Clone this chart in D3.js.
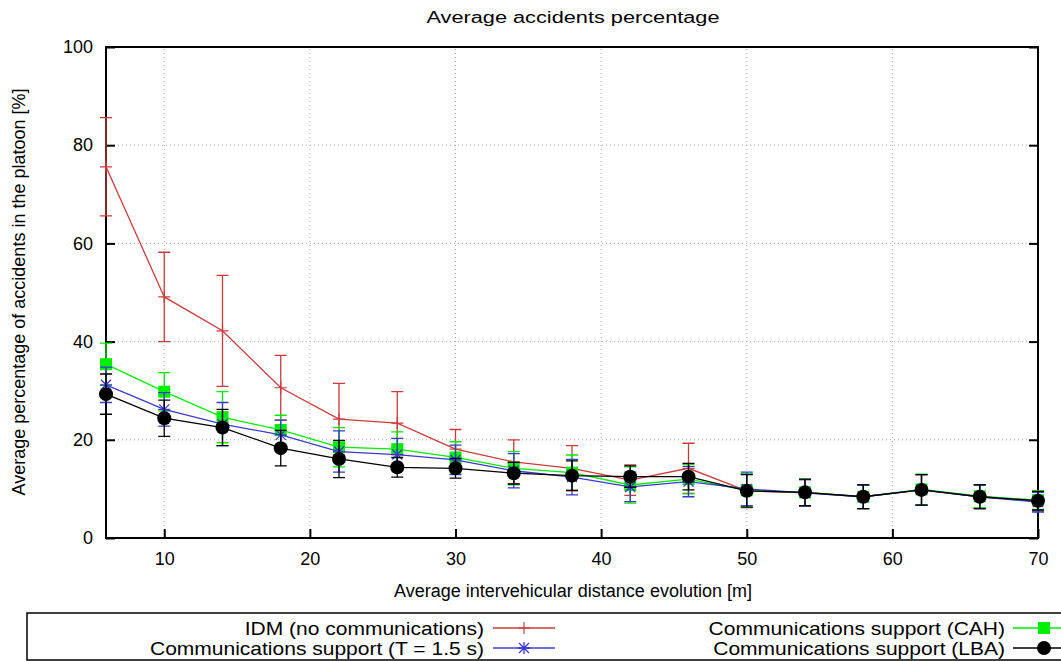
<!DOCTYPE html>
<html><head><meta charset="utf-8">
<script src="https://cdn.jsdelivr.net/npm/d3@7"></script>
<style>body{margin:0;background:#fff}svg{display:block}text{font-family:"Liberation Sans",Arial,sans-serif}</style>
</head><body>
<svg id="c" width="1061" height="661"></svg>
<script>
const distances = [6,10,14,18,22,26,30,34,38,42,46,50,54,58,62,66,70];
const idmValues = [75.6,49.1,42.2,30.6,24.2,23.4,18.1,15.5,14.2,11.8,14.2,9.6,9.2,8.4,9.8,8.4,7.5];
const idmErrors = [10,9.1,11.3,6.6,7.3,6.4,4,4.5,4.6,3.1,5.1,3.4,2.7,2.4,3.1,2.4,2];
const cahValues = [35.4,29.8,24.6,22.0,18.5,18.1,16.4,14.2,13.3,10.8,12.0,9.7,9.3,8.4,9.9,8.5,7.7];
const cahErrors = [4.3,3.9,5.2,3,4,3.5,3.2,3.4,3.6,3.7,3,3.4,2.7,2.4,3.1,2.3,1.9];
const tValues = [31.2,26.2,23.2,21.0,17.6,17.0,15.9,13.7,12.4,10.4,11.5,10.0,9.2,8.4,9.8,8.4,7.3];
const tErrors = [3.6,3.4,4.4,3,4.2,3.3,3,3.5,3.6,3,3.1,3.4,2.7,2.4,3.1,2.4,2];
const lbaValues = [29.3,24.4,22.5,18.3,16.1,14.4,14.2,13.2,12.7,12.5,12.5,9.6,9.3,8.4,9.8,8.4,7.6];
const lbaErrors = [4.1,3.7,3.7,3.6,3.8,2,2,2.2,3,2.2,2.7,3.3,2.7,2.4,3.1,2.4,1.9];
const xTicks = [10,20,30,40,50,60,70];
const yTicks = [0,20,40,60,80,100];
const seriesNames = ["IDM (no communications)","Communications support (CAH)","Communications support (T = 1.5 s)","Communications support (LBA)"];

const series = [
  {name: seriesNames[0], v: idmValues, e: idmErrors, color: "#cc3b3b", marker: "plus"},
  {name: seriesNames[1], v: cahValues, e: cahErrors, color: "#00ee00", marker: "square"},
  {name: seriesNames[2], v: tValues, e: tErrors, color: "#3a3acc", marker: "star"},
  {name: seriesNames[3], v: lbaValues, e: lbaErrors, color: "#000000", marker: "circle"}
];

const svg = d3.select("#c");
const L = 106, R = 1038, T = 47, B = 538;
const x = d3.scaleLinear().domain([6,70]).range([L,R]);
const y = d3.scaleLinear().domain([0,100]).range([B,T]);

// grid
const g = svg.append("g");
g.selectAll(".gx").data(xTicks.filter(d=>d<70)).join("line")
  .attr("x1",d=>x(d)).attr("x2",d=>x(d)).attr("y1",B).attr("y2",T)
  .attr("stroke","#aaa").attr("stroke-width",1).attr("stroke-dasharray","1,3");
g.selectAll(".gy").data(yTicks.filter(d=>d>0&&d<100)).join("line")
  .attr("y1",d=>y(d)).attr("y2",d=>y(d)).attr("x1",L).attr("x2",R)
  .attr("stroke","#aaa").attr("stroke-width",1).attr("stroke-dasharray","1,3");

// axes (inward ticks)
const xAx = svg.append("g").attr("transform",`translate(0,${B})`)
  .call(d3.axisBottom(x).tickValues(xTicks).tickSizeInner(-9).tickSizeOuter(0).tickPadding(14));
const yAx = svg.append("g").attr("transform",`translate(${L},0)`)
  .call(d3.axisLeft(y).tickValues(yTicks).tickSizeInner(-9).tickSizeOuter(0).tickPadding(13));
const yAxR = svg.append("g").attr("transform",`translate(${R},0)`)
  .call(d3.axisRight(y).tickValues(yTicks).tickSizeInner(-9).tickSizeOuter(0).tickFormat(""));
[xAx,yAx,yAxR].forEach(a=>{
  a.select(".domain").remove();
  a.selectAll("line").attr("stroke","#000").attr("stroke-width",2);
  a.selectAll("text").attr("font-size",18).attr("fill","#000").attr("font-family","Liberation Sans, Arial, sans-serif");
});

// frame
svg.append("rect").attr("x",L).attr("y",T).attr("width",R-L).attr("height",B-T)
  .attr("fill","none").attr("stroke","#000").attr("stroke-width",2);

function drawMarker(sel, type, color, cx, cy){
  if(type==="plus"){
    sel.append("path").attr("d",`M${cx-6},${cy}H${cx+6}M${cx},${cy-6}V${cy+6}`).attr("stroke",color).attr("stroke-width",1.2).attr("fill","none");
  } else if(type==="square"){
    sel.append("rect").attr("x",cx-6).attr("y",cy-6).attr("width",12).attr("height",12).attr("fill",color);
  } else if(type==="star"){
    sel.append("path").attr("d",`M${cx-6},${cy}H${cx+6}M${cx},${cy-6}V${cy+6}M${cx-5},${cy-5}L${cx+5},${cy+5}M${cx-5},${cy+5}L${cx+5},${cy-5}`)
      .attr("stroke",color).attr("stroke-width",1.3).attr("fill","none");
  } else {
    sel.append("circle").attr("cx",cx).attr("cy",cy).attr("r",7).attr("fill",color);
  }
}

const line = d3.line().x((d,i)=>x(distances[i])).y(d=>y(d));
series.forEach(s=>{
  const sg = svg.append("g");
  s.v.forEach((v,i)=>{
    const cx = x(distances[i]), y1 = y(v+s.e[i]), y2 = y(v-s.e[i]);
    sg.append("path").attr("d",`M${cx},${y1}V${y2}M${cx-6},${y1}H${cx+6}M${cx-6},${y2}H${cx+6}`)
      .attr("stroke",s.color).attr("stroke-width",1.3).attr("fill","none");
  });
  sg.append("path").datum(s.v).attr("d",line).attr("fill","none").attr("stroke",s.color).attr("stroke-width",1.3);
  s.v.forEach((v,i)=>drawMarker(sg, s.marker, s.color, x(distances[i]), y(v)));
});

// title & labels
svg.append("text").attr("x",573).attr("y",23).attr("text-anchor","middle").attr("font-size",16)
  .attr("textLength",293).attr("lengthAdjust","spacingAndGlyphs").text("Average accidents percentage");
svg.append("text").attr("x",573).attr("y",597).attr("text-anchor","middle").attr("font-size",18)
  .text("Average intervehicular distance evolution [m]");
svg.append("text").attr("transform","translate(25,292) rotate(-90)").attr("text-anchor","middle").attr("font-size",18)
  .text("Average percentage of accidents in the platoon [%]");

// legend
svg.append("rect").attr("x",27).attr("y",613).attr("width",1100).attr("height",47)
  .attr("fill","none").attr("stroke","#000").attr("stroke-width",1.5);
const legPos = [
  {tx:484, lx:493, ty:628},
  {tx:1005, lx:1013, ty:628},
  {tx:484, lx:493, ty:648},
  {tx:1005, lx:1013, ty:648}
];
// condensed legend font: scale so that the T = 1.5 s entry spans 334px
const probe = svg.append("text").attr("font-size",19).text(seriesNames[2]);
const squeeze = 334 / probe.node().getComputedTextLength();
probe.remove();
series.forEach((s,i)=>{
  const p = legPos[i];
  const t = svg.append("text").attr("font-size",19).text(s.name);
  const w = t.node().getComputedTextLength() * squeeze;
  t.attr("x",p.tx-w).attr("y",p.ty+6.5).attr("textLength",w).attr("lengthAdjust","spacingAndGlyphs");
  const lg = svg.append("g");
  lg.append("line").attr("x1",p.lx).attr("x2",p.lx+62).attr("y1",p.ty).attr("y2",p.ty).attr("stroke",s.color).attr("stroke-width",1.3);
  drawMarker(lg, s.marker, s.color, p.lx+31, p.ty);
});
</script>
</body></html>
